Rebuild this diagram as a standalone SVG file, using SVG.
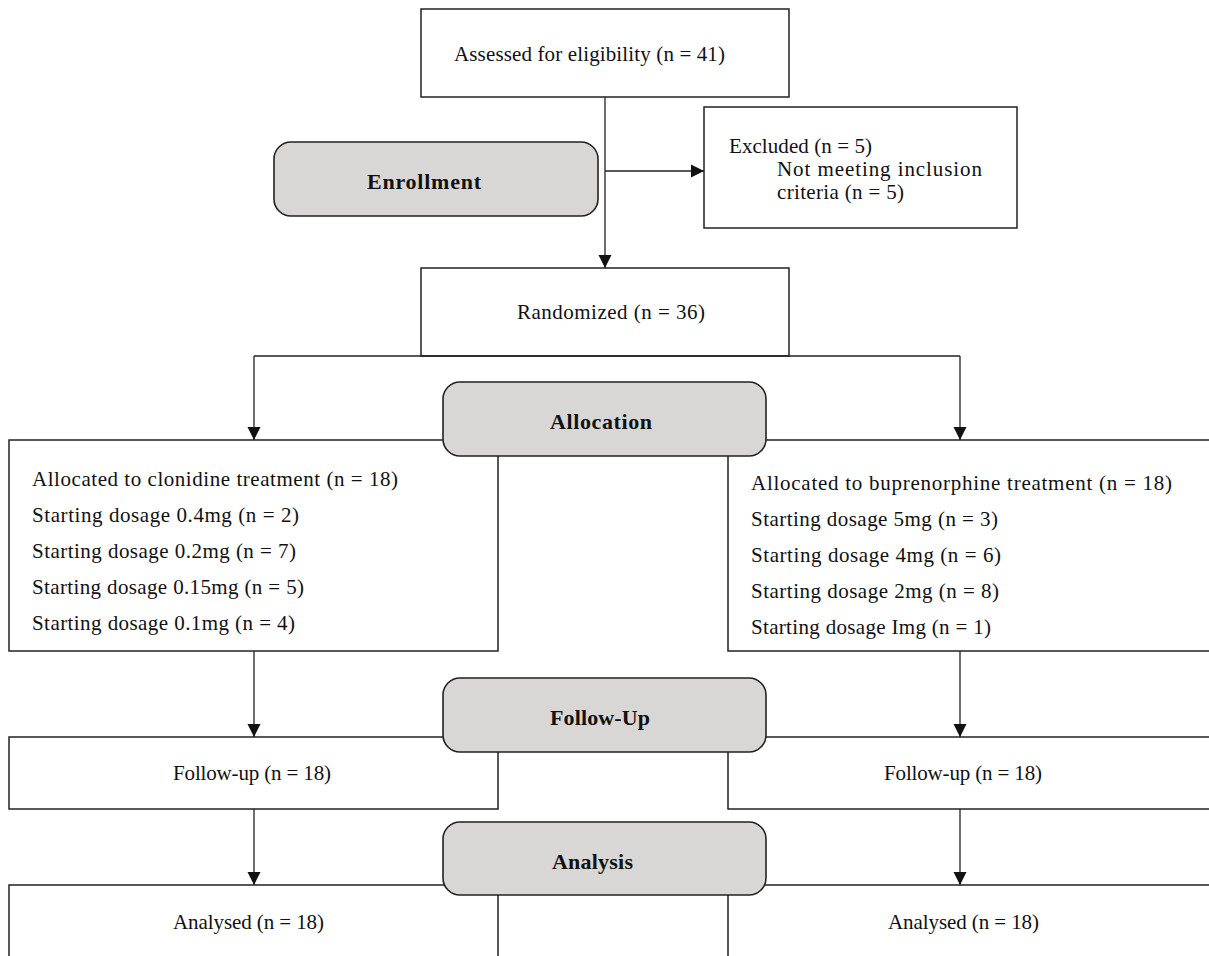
<svg xmlns="http://www.w3.org/2000/svg" width="1209" height="956" viewBox="0 0 1209 956">
<style>
.box{fill:#fff;stroke:#222;stroke-width:1.5}
.stage{fill:#d8d7d5;stroke:#222;stroke-width:1.6}
.t{font-family:"Liberation Serif","Times New Roman",serif;font-size:21px;fill:#111}
.b{font-family:"Liberation Serif","Times New Roman",serif;font-size:22px;font-weight:bold;fill:#111}
.ln{fill:none;stroke:#222;stroke-width:1.3}
</style>
<defs>
<marker id="ah" markerUnits="userSpaceOnUse" markerWidth="14" markerHeight="14" viewBox="0 0 14 14" refX="13" refY="7" orient="auto">
<path d="M0,0.5 L13,7 L0,13.5 Z" fill="#111"/>
</marker>
</defs>
<rect width="1209" height="956" fill="#fff"/>

<g id="assessed">
<rect class="box" x="421" y="9" width="368" height="88"/>
<text class="t" x="454" y="61" textLength="271">Assessed for eligibility (n = 41)</text>
</g>
<g id="excluded">
<rect class="box" x="704" y="107" width="313" height="121"/>
<text class="t" x="729" y="153" textLength="143">Excluded (n = 5)</text>
<text class="t" x="777" y="176" textLength="205">Not meeting inclusion</text>
<text class="t" x="777" y="199" textLength="127">criteria (n = 5)</text>
</g>
<g id="randomized">
<rect class="box" x="421" y="268" width="368" height="88"/>
<text class="t" x="517" y="319" textLength="188">Randomized (n = 36)</text>
</g>
<g id="alloc-clonidine">
<rect class="box" x="9" y="440" width="489" height="211"/>
<text class="t" x="32" y="486" textLength="366">Allocated to clonidine treatment (n = 18)</text>
<text class="t" x="32" y="522" textLength="267">Starting dosage 0.4mg (n = 2)</text>
<text class="t" x="32" y="558" textLength="264">Starting dosage 0.2mg (n = 7)</text>
<text class="t" x="32" y="594" textLength="272">Starting dosage 0.15mg (n = 5)</text>
<text class="t" x="32" y="630" textLength="263">Starting dosage 0.1mg (n = 4)</text>
</g>
<g id="alloc-buprenorphine">
<rect class="box" x="728" y="440" width="490" height="211"/>
<text class="t" x="751" y="490" textLength="421">Allocated to buprenorphine treatment (n = 18)</text>
<text class="t" x="751" y="526" textLength="247">Starting dosage 5mg (n = 3)</text>
<text class="t" x="751" y="562" textLength="250">Starting dosage 4mg (n = 6)</text>
<text class="t" x="751" y="598" textLength="248">Starting dosage 2mg (n = 8)</text>
<text class="t" x="751" y="634" textLength="240">Starting dosage Img (n = 1)</text>
</g>
<g id="followup-left">
<rect class="box" x="9" y="737" width="489" height="72"/>
<text class="t" x="173" y="780" textLength="158">Follow-up (n = 18)</text>
</g>
<g id="followup-right">
<rect class="box" x="728" y="737" width="490" height="72"/>
<text class="t" x="884" y="780" textLength="158">Follow-up (n = 18)</text>
</g>
<g id="analysed-left">
<rect class="box" x="9" y="885" width="489" height="90"/>
<text class="t" x="173" y="929" textLength="151">Analysed (n = 18)</text>
</g>
<g id="analysed-right">
<rect class="box" x="728" y="885" width="490" height="90"/>
<text class="t" x="888" y="929" textLength="151">Analysed (n = 18)</text>
</g>

<g id="connectors">
<line class="ln" x1="605" y1="97" x2="605" y2="268" marker-end="url(#ah)"/>
<line class="ln" x1="605" y1="171" x2="704" y2="171" marker-end="url(#ah)"/>
<line class="ln" x1="254" y1="356" x2="960" y2="356"/>
<line class="ln" x1="254" y1="356" x2="254" y2="440" marker-end="url(#ah)"/>
<line class="ln" x1="960" y1="356" x2="960" y2="440" marker-end="url(#ah)"/>
<line class="ln" x1="254" y1="651" x2="254" y2="737" marker-end="url(#ah)"/>
<line class="ln" x1="960" y1="651" x2="960" y2="737" marker-end="url(#ah)"/>
<line class="ln" x1="254" y1="809" x2="254" y2="885" marker-end="url(#ah)"/>
<line class="ln" x1="960" y1="809" x2="960" y2="885" marker-end="url(#ah)"/>
</g>

<g id="enrollment">
<rect class="stage" x="274" y="142" width="324" height="74" rx="17"/>
<text class="b" x="367" y="189" textLength="114">Enrollment</text>
</g>
<g id="allocation">
<rect class="stage" x="443" y="382" width="323" height="74" rx="17"/>
<text class="b" x="550" y="429" textLength="102">Allocation</text>
</g>
<g id="follow-up-stage">
<rect class="stage" x="443" y="678" width="323" height="74" rx="17"/>
<text class="b" x="550" y="725" textLength="100">Follow-Up</text>
</g>
<g id="analysis">
<rect class="stage" x="443" y="822" width="323" height="73" rx="17"/>
<text class="b" x="552" y="869" textLength="81">Analysis</text>
</g>
</svg>
